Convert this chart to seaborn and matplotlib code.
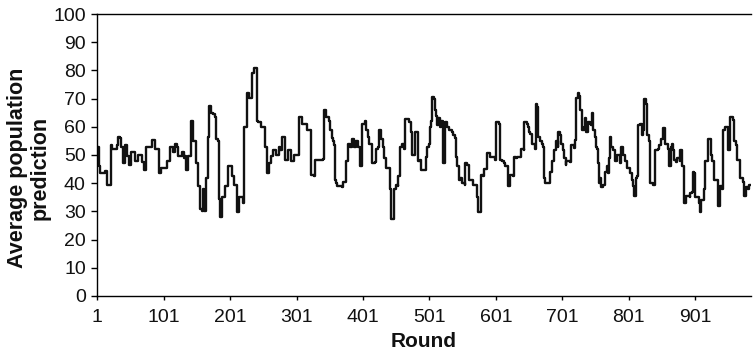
import numpy as np
import pandas as pd
import matplotlib
matplotlib.use('Agg')
import matplotlib.pyplot as plt
import seaborn as sns

# round numbers where the traced line changes, and the value it takes there
rounds = [
    1, 3, 5, 12, 15, 16, 20, 21, 23, 28, 30, 32, 35, 37, 40, 42, 46, 49, 52, 57,
    58, 62, 63, 67, 68, 70, 71, 73, 74, 80, 83, 86, 88, 93, 94, 96, 97, 105, 106, 109,
    110, 115, 118, 121, 123, 128, 131, 133, 135, 137, 138, 141, 142, 144, 145, 148, 149, 151, 152, 154,
    155, 158, 160, 161, 164,
    165, 167, 169, 171, 172, 175, 178, 179, 183, 184, 185, 188, 189, 193, 194, 197, 198, 203, 204, 206,
    207, 210, 211, 212, 214, 215, 221, 222, 225, 226, 229, 230, 233, 234, 236, 237, 240, 241, 243, 246,
    247, 253, 254, 256, 257, 258, 259, 262, 266, 270, 274, 276, 279, 283, 284, 287, 288, 291, 292, 296,
    297, 303, 304, 308, 309, 316, 317, 321,
    323, 328, 329, 341, 342, 345, 346, 350, 351, 354, 356, 358, 359, 361, 362, 370, 371, 375, 376, 378,
    382, 385, 388, 391, 394, 396, 398, 399, 404, 405, 409, 410, 414, 415, 419, 420, 424, 425, 427, 428,
    431, 432, 435, 436, 441, 442, 443, 446, 447, 449, 450, 453, 454, 456, 460, 463, 465, 469, 470, 474,
    475, 479, 480, 483, 484, 487, 488, 494,
    496, 497, 501, 502, 504, 505, 508, 509, 511, 512, 514, 517, 519, 521, 522, 523, 524, 527, 530, 535,
    537, 540, 541, 543, 545, 547, 550, 554, 555, 558, 560, 561, 566, 567, 572, 573, 574, 577, 578, 582,
    583, 587, 588, 591, 592, 600, 601, 606, 607, 608, 610, 613, 615, 619, 620, 622, 623, 627, 628, 632,
    633, 638, 639, 643, 644, 648, 649, 651, 652, 655, 656, 660,
    661, 663, 664, 667, 670, 672, 673, 675, 682, 683, 686, 689, 691, 694, 695, 698, 699, 702, 703, 706,
    707, 713, 714, 719, 720, 721, 724, 726, 727, 728, 731, 733, 735, 737, 740, 743, 744, 746, 748, 750,
    752, 754, 755, 756, 758, 760, 763, 765, 768, 770, 771, 773, 775, 778, 781, 784, 788, 790, 793, 796,
    798, 803, 806, 808, 809, 811, 812, 814, 815, 818, 821, 823, 824,
    825, 827, 828, 831, 832, 833, 838, 840, 841, 845, 846, 849, 852, 853, 855, 856, 860, 861, 863, 864,
    866, 868, 869, 873, 874, 878, 879, 881, 882, 884, 885, 887, 888, 893, 894, 897, 898, 900, 901, 906,
    907, 909, 910, 915, 916, 920, 921, 925, 926, 929, 930, 934, 935, 937, 938, 942, 943, 946, 950, 951,
    953, 954, 958, 959, 962, 964, 968, 969, 973, 974, 976, 977, 981, 982, 988,
]
avg_prediction = [
    53, 46, 43.5, 44.5, 42, 39.5, 39.5, 53.5, 52, 52, 53.5, 56.5, 56, 53, 47, 53.5, 49.5, 46.5, 51, 51,
    48, 48, 50, 50, 47.5, 47.5, 44.8, 44.8, 53, 53, 55.2, 55.2, 52, 52, 43.6, 43.6, 45.3, 45.3, 48, 48,
    53, 51, 54, 53, 49.5, 51, 49, 49.5, 44.8, 44.8, 49.5, 49.5, 62.2, 62.2, 55, 55, 47, 47, 39, 39,
    31, 30, 38, 30, 30,
    42, 56.4, 67.4, 67.4, 65, 64.5, 63.5, 55.8, 55, 34.3, 27.9, 27.9, 35, 35.5, 39, 39, 46, 46, 42.4, 42.4,
    39.5, 39.5, 35, 29.7, 29.7, 35, 33, 59.9, 59.9, 72, 72, 70.3, 70.3, 79, 79, 80.8, 80.8, 62.2, 61.6, 61.6,
    60, 60, 52.9, 52.9, 43.6, 43.6, 47, 49.5, 51.6, 50, 53, 51.6, 56.4, 56.4, 48.1, 48.1, 51.6, 51.6, 48, 48,
    50, 50, 63.4, 63.4, 61, 61, 58.7, 58.7,
    43, 42.4, 48.3, 48.5, 66, 65.7, 63.4, 62, 59, 56, 55, 53.5, 41, 40, 39, 38.5, 40.5, 41, 48, 54,
    53, 55.8, 53, 55, 53, 46, 46, 61, 62, 58.7, 56.4, 54, 54, 47, 47.5, 52, 52.9, 58.7, 58.7, 55.5,
    53, 49, 47, 45.3, 45, 37.8, 27.3, 27.3, 37.8, 37.8, 39.5, 39, 42.4, 52.9, 54, 52, 62.8, 62.8, 61.6, 58,
    50, 50, 58, 58, 48, 48.3, 44.8, 44.8,
    49.4, 52.9, 54, 59.9, 62, 70.5, 70, 66, 64, 60.5, 63, 60, 62, 58.7, 47, 47, 61.6, 60, 58.7, 58,
    57, 56, 49.4, 46, 41, 42, 40, 39.5, 47, 46.5, 45.9, 41, 40, 39.5, 39, 35, 29.7, 29.7, 43, 42.4,
    45, 45.3, 50.6, 50.6, 49.4, 48.3, 61.6, 61, 59.9, 48.3, 48, 47, 46, 46, 39, 39, 43, 42.4, 49.4, 49,
    49.4, 49.4, 52, 51.7, 61.6, 61, 59.9, 58, 57.5, 56.4, 54, 52,
    68, 67, 56.4, 55, 54, 53, 42, 40, 40, 44, 48, 51.7, 55, 53, 58.1, 57, 54, 51.7, 49, 46.5,
    48, 47.5, 53.5, 52.5, 55.2, 70.3, 72, 71, 70, 66, 58.7, 60, 63, 58, 61.6, 61, 60.5, 65, 59, 56.4,
    53, 52, 47, 40, 42, 38.5, 39.5, 44, 46, 43.6, 49, 56.4, 53, 51.6, 48, 50, 47, 53, 50, 48,
    45.5, 43.6, 41, 39, 35.5, 35.5, 42, 42.4, 60.5, 61, 57, 59, 70,
    70, 68, 57, 56, 55, 40, 39.5, 41, 51.7, 52, 53.5, 55.5, 57, 59.5, 57, 54, 52, 46, 46, 53,
    54, 51.7, 48.3, 47.5, 49, 48, 51.7, 51.7, 46, 45.9, 33, 33, 35.5, 35, 36.5, 37, 44, 43.6, 35, 35,
    33, 29.7, 34, 37.8, 48, 52.9, 55.8, 50, 48, 45.3, 41, 41.3, 32, 32, 39, 38, 58.7, 59.9, 59.5, 51.7,
    53, 63.4, 62.5, 55, 53.5, 48.3, 47, 42, 40.5, 35.5, 35.5, 38.5, 37.8, 39.5, 39.5,
]

x_ticks = [1, 101, 201, 301, 401, 501, 601, 701, 801, 901]
y_ticks = list(range(0, 101, 10))

df = pd.DataFrame({'Round': rounds, 'Average population prediction': avg_prediction})

sns.set_theme(style='ticks')
plt.rcParams['font.family'] = ['Liberation Sans', 'DejaVu Sans']

fig = plt.figure(figsize=(7.53, 3.59), dpi=100)
ax = fig.add_axes([0.1292, 0.1755, 0.868, 0.7855])

sns.lineplot(data=df, x='Round', y='Average population prediction', ax=ax,
             estimator=None, drawstyle='steps-post', color='#111111', linewidth=1.7)

ax.set_xlim(1, 985)
ax.set_ylim(0, 100)
ax.set_xticks(x_ticks)
ax.set_yticks(y_ticks)
ax.tick_params(axis='both', direction='out', width=1, color='black',
               labelsize=14, labelcolor='#111111')
ax.tick_params(axis='y', length=4.3, pad=4)
ax.tick_params(axis='x', length=3, pad=6.5)

for side in ['left', 'bottom', 'top']:
    ax.spines[side].set_color('black')
    ax.spines[side].set_linewidth(1)
ax.spines['right'].set_visible(False)

ax.set_xlabel('Round', fontsize=15, fontweight='bold', labelpad=4, color='#111111')
ax.set_ylabel('Average population\nprediction', fontsize=15.5, fontweight='bold',
              color='#111111', linespacing=1.05)
ax.yaxis.set_label_coords(-0.072, 0.455)

fig.savefig('out.png', dpi=100)
